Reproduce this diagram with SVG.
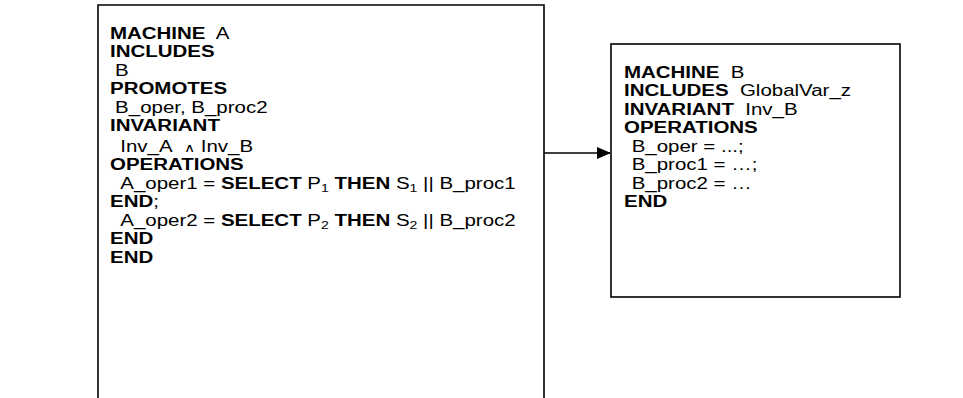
<svg xmlns="http://www.w3.org/2000/svg" width="963" height="398" viewBox="0 0 963 398">
<defs>
<style>
text{font-family:"Liberation Sans",Arial,sans-serif;font-size:16px;fill:#000}
.b{font-weight:bold}
.sub{font-size:11px}
.box{fill:#fff;stroke:#000;stroke-width:1.6}
.conn{stroke:#000;stroke-width:1.6;fill:none}
</style>
<marker id="ah" markerWidth="14" markerHeight="12" refX="13" refY="6" orient="auto" markerUnits="userSpaceOnUse">
<path d="M0,0 L14,6 L0,12 Z" fill="#000"/>
</marker>
</defs>
<g id="machineA">
<path class="box" d="M98,400 V5 H544 V400"/>
<g transform="translate(110,0) scale(1.28,1)">
<text y="39"><tspan class="b">MACHINE</tspan>&#160; A</text>
<text y="57.5" class="b">INCLUDES</text>
<text y="76" x="4">B</text>
<text y="94.5" class="b">PROMOTES</text>
<text y="113" x="4">B_oper, B_proc2</text>
<text y="131.5" class="b">INVARIANT</text>
<text y="152" x="8">Inv_A&#160; <tspan font-size="12">∧</tspan> Inv_B</text>
<text y="170.5" class="b">OPERATIONS</text>
<text y="189" x="8">A_oper1 = <tspan class="b">SELECT</tspan> P<tspan class="sub" dy="3">1</tspan><tspan dy="-3"> </tspan><tspan class="b">THEN</tspan> S<tspan class="sub" dy="3">1</tspan><tspan dy="-3"> || B_proc1</tspan></text>
<text y="207.5" class="b">END<tspan font-weight="normal">;</tspan></text>
<text y="226" x="8">A_oper2 = <tspan class="b">SELECT</tspan> P<tspan class="sub" dy="3">2</tspan><tspan dy="-3"> </tspan><tspan class="b">THEN</tspan> S<tspan class="sub" dy="3">2</tspan><tspan dy="-3"> || B_proc2</tspan></text>
<text y="244.5" class="b">END</text>
<text y="263" class="b">END</text>
</g>
</g>
<g id="machineB">
<rect class="box" x="611" y="44" width="289" height="253"/>
<g transform="translate(624,0) scale(1.28,1)">
<text y="78"><tspan class="b">MACHINE</tspan>&#160; B</text>
<text y="96.5"><tspan class="b">INCLUDES</tspan>&#160; GlobalVar_z</text>
<text y="115"><tspan class="b">INVARIANT</tspan>&#160; Inv_B</text>
<text y="133.5" class="b">OPERATIONS</text>
<text y="152" x="6">B_oper = ...;</text>
<text y="170.5" x="6">B_proc1 = …;</text>
<text y="189" x="6">B_proc2 = …</text>
<text y="207.5" class="b">END</text>
</g>
</g>
<g id="connectors">
<line class="conn" x1="544" y1="153" x2="610" y2="153" marker-end="url(#ah)"/>
</g>
</svg>
